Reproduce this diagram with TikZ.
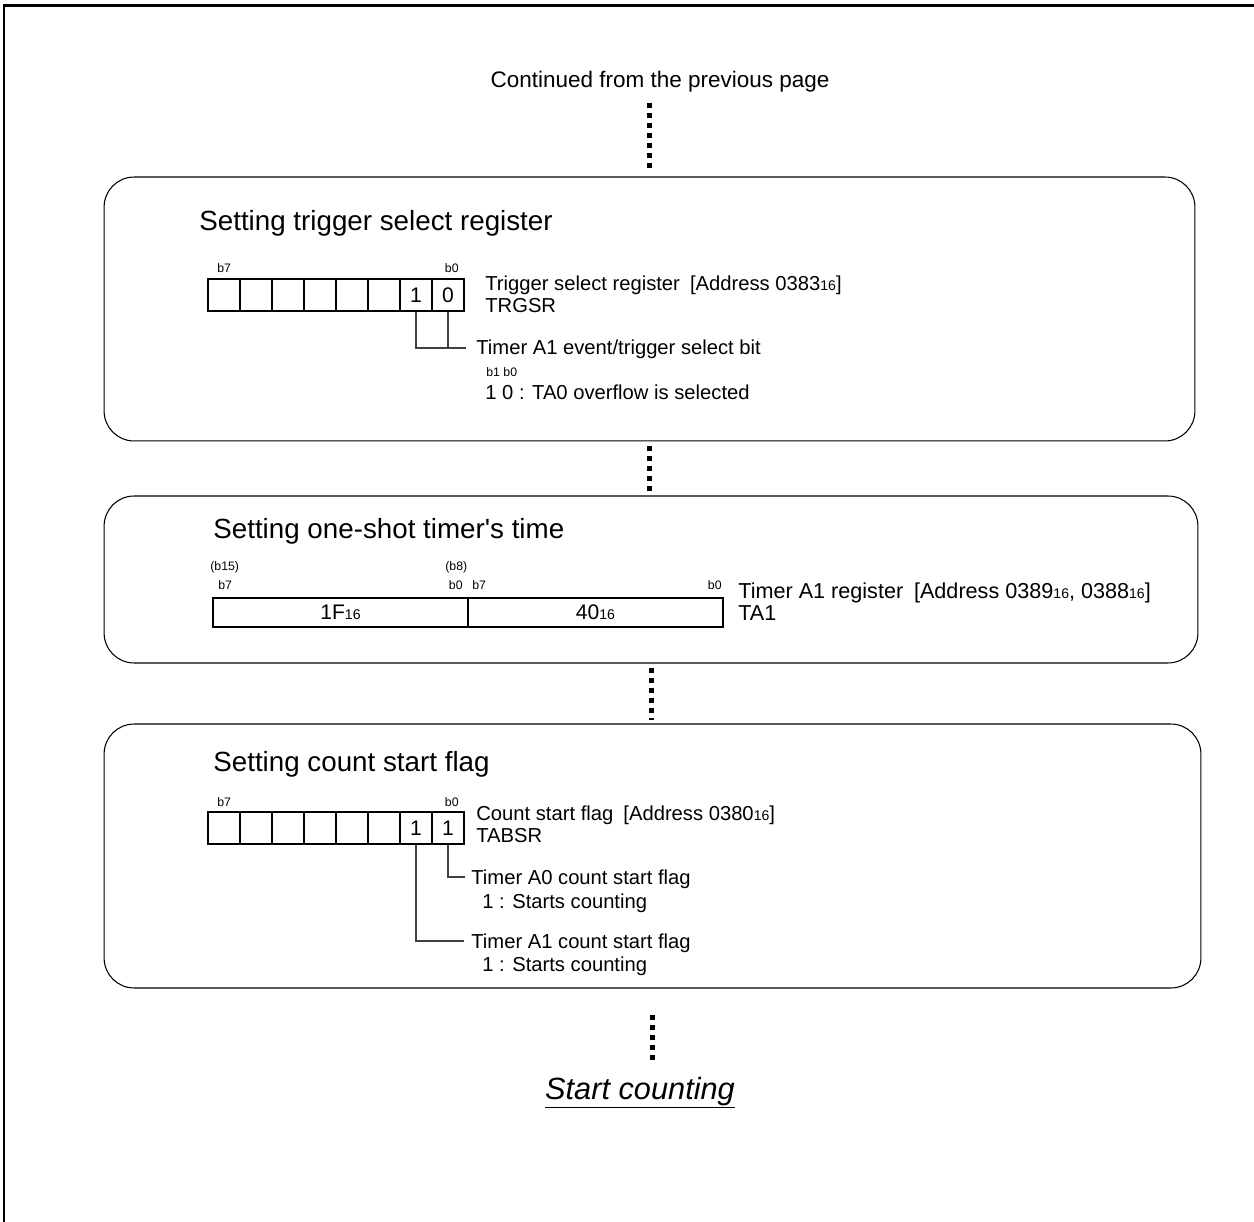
\documentclass[tikz,border=0pt]{standalone}
\usepackage{fontspec}
\setmainfont{Liberation Sans}[Ligatures=TeXOff]
\usetikzlibrary{positioning}
\newcommand{\hexsub}[1]{{\fontsize{8}{8}\selectfont #1}}

\begin{document}
\begin{tikzpicture}[
  x=0.02cm,y=-0.02cm,
  panel/.style={draw,line width=0.6pt,rounded corners=0.6cm,inner sep=0pt},
  title/.style={anchor=base west,inner sep=0pt,font=\fontsize{15.8}{18}\selectfont},
  txt/.style={anchor=base west,inner sep=0pt,font=\fontsize{11.5}{14}\selectfont},
  bit/.style={inner sep=0pt,font=\fontsize{7}{8}\selectfont},
  cell/.style={draw,line width=1.1pt,minimum width=0.64cm,minimum height=0.64cm,inner sep=0pt,font=\fontsize{12}{14}\selectfont},
  half/.style={draw,line width=1.1pt,minimum width=5.1cm,minimum height=0.58cm,inner sep=0pt,font=\fontsize{12}{14}\selectfont},
  lead/.style={draw=black!75,line width=0.6pt},
  dots/.style={line width=0.1cm,dash pattern=on 0.1cm off 0.1cm}
]
  \useasboundingbox (0,0) rectangle (1254,1222);
  \draw[line width=1.7pt] (4,1222) -- (4,6) -- (1254,6);

  \node[anchor=base,inner sep=0pt,font=\fontsize{12.8}{15}\selectfont] (cont) at (660,88) {Continued from the previous page};

  \node[panel,minimum width=21.82cm,minimum height=5.28cm] (box1) at (649.5,309) {};
  \node[panel,minimum width=21.88cm,minimum height=3.34cm] (box2) at (651,579.5) {};
  \node[panel,minimum width=21.94cm,minimum height=5.28cm] (box3) at (652.5,856) {};

  \draw[dots,shorten <=0.2cm,shorten >=0.1cm] (cont.south -| box1.north) -- (box1.north);
  \draw[dots,shorten <=0.1cm,shorten >=0.06cm] (box1.south) -- (box1.south |- box2.north);
  \draw[dots,shorten <=0.08cm,shorten >=0.08cm] (box2.south) -- (box2.south |- box3.north);

  \node[title] (ttl1) at (199,231) {Setting trigger select register};
  \foreach \i/\v in {1/{},2/{},3/{},4/{},5/{},6/{},7/1,8/0}
    \node[cell] (trg\i) at ({192+32*\i},295) {\v};
  \node[bit,anchor=base west] (trgb7) at (217,273) {b7};
  \node[bit,anchor=base east] (trgb0) at (459,273) {b0};
  \node[txt] (trgname) at (485,291) {Trigger select register\enspace[Address 0383\hexsub{16}]};
  \node[txt] (trgsym) at (485,313) {TRGSR};
  \coordinate (trgend) at (466,348);
  \draw[lead] (trg7.south) |- (trgend);
  \draw[lead] (trg8.south) -- (trg8.south |- trgend);
  \node[txt] (trgbit) at (476,355) {Timer A1 event/trigger select bit};
  \node[bit,anchor=base west] (trgbits) at (486,377) {b1 b0};
  \node[txt] (trgval) at (485,400) {1 0 : TA0 overflow is selected};

  \node[title] (ttl2) at (213,539) {Setting one-shot timer's time};
  \node[half] (ta1hi) at (340.5,612.5) {1F\hexsub{16}};
  \node[half] (ta1lo) at (595.5,612.5) {40\hexsub{16}};
  \node[bit,anchor=base west] (ta1b15) at (210,571) {(b15)};
  \node[bit,anchor=base west] (ta1b7a) at (218,590) {b7};
  \node[bit,anchor=base west] (ta1b8) at (445,571) {(b8)};
  \node[bit,anchor=base east] (ta1b0a) at (463,590) {b0};
  \node[bit,anchor=base west] (ta1b7b) at (472,590) {b7};
  \node[bit,anchor=base east] (ta1b0b) at (722,590) {b0};
  \node[txt,font=\fontsize{12.3}{14}\selectfont] (ta1name) at (738,599) {Timer A1 register\enspace[Address 0389\hexsub{16}, 0388\hexsub{16}]};
  \node[txt,font=\fontsize{12.3}{14}\selectfont] (ta1sym) at (738,621) {TA1};

  \node[title] (ttl3) at (213,771) {Setting count start flag};
  \foreach \i/\v in {1/{},2/{},3/{},4/{},5/{},6/{},7/1,8/1}
    \node[cell] (tab\i) at ({192+32*\i},828) {\v};
  \node[bit,anchor=base west] (tabb7) at (217,806) {b7};
  \node[bit,anchor=base east] (tabb0) at (459,806) {b0};
  \node[txt] (tabname) at (476,820) {Count start flag\enspace[Address 0380\hexsub{16}]};
  \node[txt] (tabsym) at (476,842) {TABSR};
  \coordinate (tabA0) at (465,877);
  \coordinate (tabA1) at (464,941);
  \draw[lead] (tab8.south) |- (tabA0);
  \draw[lead] (tab7.south) |- (tabA1);
  \node[txt] (tabA0name) at (471,884) {Timer A0 count start flag};
  \node[txt] (tabA0val) at (482,908) {1 : Starts counting};
  \node[txt] (tabA1name) at (471,948) {Timer A1 count start flag};
  \node[txt] (tabA1val) at (482,971) {1 : Starts counting};

  \node[anchor=base,inner sep=0pt,font=\fontsize{17.5}{20}\selectfont\itshape] (start) at (640,1099) {\underline{Start counting}};
  \draw[dots,shorten <=0.54cm,shorten >=0.3cm] (box3.south) -- (box3.south |- start.north);
\end{tikzpicture}
\end{document}
